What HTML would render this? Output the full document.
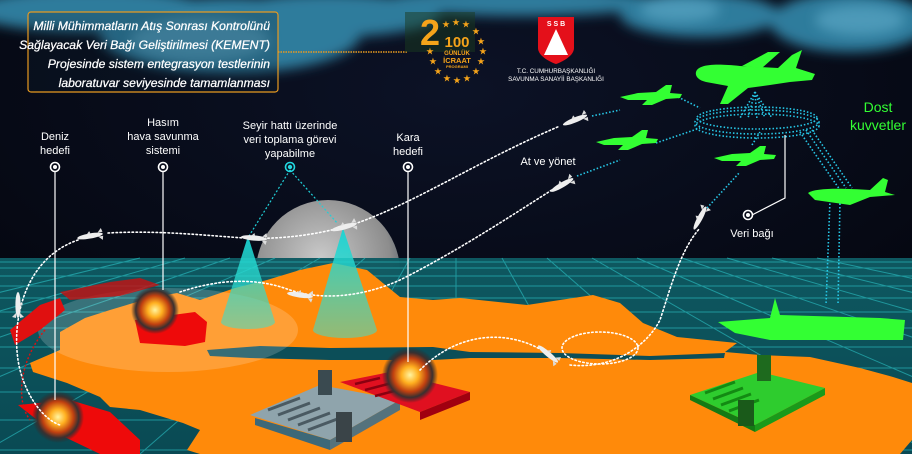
<!DOCTYPE html>
<html><head><meta charset="utf-8"><style>
html,body{margin:0;padding:0;background:#000;}
svg{display:block;}
text{font-family:"Liberation Sans",sans-serif;}
</style></head><body>
<svg width="912" height="454" viewBox="0 0 912 454" xmlns="http://www.w3.org/2000/svg">
<defs>
<filter id="bl" x="-20%" y="-50%" width="140%" height="200%"><feGaussianBlur stdDeviation="6"/></filter>
<radialGradient id="sky" cx="0.5" cy="0.2" r="0.8"><stop offset="0" stop-color="#0c1226"/><stop offset="1" stop-color="#03050c"/></radialGradient>
<radialGradient id="moon" cx="0.45" cy="0.4" r="0.6"><stop offset="0" stop-color="#c9c9c9"/><stop offset="0.8" stop-color="#8d8d8d"/><stop offset="1" stop-color="#5c6670"/></radialGradient>
<radialGradient id="ex" cx="0.5" cy="0.5" r="0.5"><stop offset="0" stop-color="#fff4a0"/><stop offset="0.3" stop-color="#ffb020"/><stop offset="0.6" stop-color="#c04010"/><stop offset="0.8" stop-color="#3a3030"/><stop offset="1" stop-color="#302828" stop-opacity="0"/></radialGradient>
<linearGradient id="sea" x1="0" y1="0" x2="0" y2="1"><stop offset="0" stop-color="#0e5a62"/><stop offset="1" stop-color="#0a4c56"/></linearGradient>
<linearGradient id="cone" x1="0" y1="0" x2="0" y2="1"><stop offset="0" stop-color="#19d4d4" stop-opacity="0.95"/><stop offset="1" stop-color="#40e0c8" stop-opacity="0.55"/></linearGradient>
<path id="jet" d="M0,12 L18,8 L36,7 L46,0 L52,0 L50,8 L62,9 L60,13 L46,14 L32,20 L22,20 L27,15 L8,15 Z"/>
<g id="msl"><ellipse cx="0" cy="0" rx="13" ry="2.6" fill="#eee"/><path d="M8,-2 L12,-6 L13,-2 Z M8,2 L12,6 L13,2 Z M-3,-2 L0,-5 L1,-2 Z" fill="#ddd"/></g>
</defs>
<rect width="912" height="454" fill="url(#sky)"/>
<!-- clouds -->
<g filter="url(#bl)" fill="#2f7c9c">
<ellipse cx="90" cy="10" rx="120" ry="22"/>
<ellipse cx="230" cy="35" rx="130" ry="38"/>
<ellipse cx="330" cy="15" rx="110" ry="22"/>
<ellipse cx="520" cy="2" rx="140" ry="14"/>
<ellipse cx="700" cy="15" rx="80" ry="22"/>
<ellipse cx="850" cy="22" rx="80" ry="30"/>
</g>
<g filter="url(#bl)" fill="#5aa6c4" opacity="0.7"><ellipse cx="200" cy="40" rx="70" ry="22"/><ellipse cx="860" cy="20" rx="45" ry="15"/><ellipse cx="680" cy="10" rx="40" ry="12"/></g>
<!-- moon -->
<circle cx="328" cy="272" r="72" fill="url(#moon)"/>
<!-- sea -->
<rect x="0" y="258" width="912" height="196" fill="url(#sea)" opacity="0.97"/>
<g stroke="#2cc4c8" stroke-width="1" opacity="0.6" fill="none">
<line x1="0" y1="262" x2="912" y2="262"/><line x1="0" y1="268" x2="912" y2="268"/><line x1="0" y1="276" x2="912" y2="276"/><line x1="0" y1="286" x2="912" y2="286"/><line x1="0" y1="298" x2="912" y2="298"/><line x1="0" y1="312" x2="912" y2="312"/><line x1="0" y1="328" x2="912" y2="328"/><line x1="0" y1="347" x2="912" y2="347"/><line x1="0" y1="368" x2="912" y2="368"/><line x1="0" y1="392" x2="912" y2="392"/><line x1="0" y1="420" x2="912" y2="420"/><line x1="0" y1="450" x2="912" y2="450"/>
<line x1="456" y1="258" x2="456" y2="454"/><line x1="410" y1="258" x2="300" y2="454"/><line x1="365" y1="258" x2="140" y2="454"/><line x1="320" y1="258" x2="-20" y2="454"/><line x1="275" y1="258" x2="-180" y2="454"/><line x1="230" y1="258" x2="-340" y2="454"/><line x1="185" y1="258" x2="-500" y2="454"/><line x1="140" y1="258" x2="-660" y2="454"/>
<line x1="502" y1="258" x2="612" y2="454"/><line x1="547" y1="258" x2="772" y2="454"/><line x1="592" y1="258" x2="932" y2="454"/><line x1="637" y1="258" x2="1092" y2="454"/><line x1="682" y1="258" x2="1252" y2="454"/><line x1="727" y1="258" x2="1412" y2="454"/><line x1="772" y1="258" x2="1572" y2="454"/><line x1="817" y1="258" x2="1732" y2="454"/>
</g>
<!-- land -->
<path fill="#ff8a0a" d="M60,332 L85,318 L110,310 L150,298 L177,293 L200,300 L235,288 L267,280 L300,270 L333,263 L367,270 L400,297 L433,300 L460,298 L527,305 L560,300 L593,295 L620,303 L643,323 L677,337 L737,343 L725,352 L760,355 L810,357 L860,368 L893,377 L912,383 L912,440 L900,454 L200,454 L187,450 L200,430 L183,423 L140,410 L110,407 L100,397 L67,383 L33,372 L30,363 L60,350 Z"/>
<path fill="#0c4e58" d="M207,350 L260,346 L330,348 L433,347 L470,352 L560,353 L650,356 L725,353 L724,358 L650,360 L560,358 L470,358 L433,360 L330,360 L250,358 L210,356 Z"/>
<ellipse cx="168" cy="330" rx="130" ry="42" fill="#ffffff" opacity="0.18"/>
<!-- cones -->
<path d="M248,236 L221,322 A27,7 0 0 0 275,322 Z" fill="url(#cone)"/>
<path d="M343,228 L313,330 A32,8 0 0 0 377,330 Z" fill="url(#cone)"/>
<!-- red enemies -->
<path d="M10,330 L40,305 L60,298 L65,310 L40,330 L15,345 Z" fill="#e01010"/>
<path d="M60,292 L110,282 L140,278 L160,285 L120,296 L70,300 Z" fill="#c81010" opacity="0.8"/>
<path d="M135,320 L195,312 L207,322 L205,342 L185,346 L140,343 Z" fill="#ee0a0a"/>
<path d="M18,405 L70,400 L110,412 L140,440 L140,454 L100,454 L50,430 Z" fill="#ee0a0a"/>
<!-- bases -->
<path d="M250,415 L320,385 L400,400 L330,440 Z" fill="#8fa4ac"/>
<g stroke="#4a5a62" stroke-width="3"><line x1="268" y1="410" x2="300" y2="398"/><line x1="278" y1="415" x2="310" y2="403"/><line x1="288" y1="420" x2="320" y2="408"/><line x1="298" y1="425" x2="330" y2="413"/><line x1="308" y1="430" x2="340" y2="418"/></g>
<path d="M255,418 L330,440 L330,450 L255,425 Z" fill="#3d6878"/>
<path d="M330,440 L400,400 L400,410 L330,450 Z" fill="#55727c"/>
<rect x="318" y="370" width="14" height="25" fill="#3a4a50"/>
<rect x="336" y="412" width="16" height="30" fill="#3a4448"/>
<path d="M340,382 L390,372 L470,392 L420,412 Z" fill="#e01020"/>
<g stroke="#8a0010" stroke-width="2.5"><line x1="355" y1="384" x2="380" y2="378"/><line x1="365" y1="390" x2="392" y2="383"/><line x1="375" y1="396" x2="402" y2="389"/></g>
<path d="M420,412 L470,392 L470,400 L420,420 Z" fill="#a00010"/>
<path d="M690,395 L760,372 L825,388 L755,425 Z" fill="#2ecc2e"/>
<g stroke="#138a13" stroke-width="3"><line x1="705" y1="393" x2="735" y2="382"/><line x1="713" y1="399" x2="743" y2="388"/><line x1="721" y1="405" x2="751" y2="394"/><line x1="729" y1="411" x2="759" y2="400"/></g>
<path d="M690,395 L755,425 L755,432 L690,400 Z" fill="#147a14"/>
<path d="M755,425 L825,388 L825,395 L755,432 Z" fill="#1a9a1a"/>
<rect x="757" y="355" width="14" height="26" fill="#1e6a1e"/>
<rect x="738" y="400" width="16" height="26" fill="#1a5a1a"/>
<!-- explosions -->
<circle cx="155" cy="310" r="24" fill="url(#ex)"/>
<circle cx="58" cy="417" r="26" fill="url(#ex)"/>
<circle cx="410" cy="375" r="28" fill="url(#ex)"/>
<!-- green ship -->
<path d="M718,322 L770,318 L775,298 L780,315 L880,318 L905,320 L903,340 L770,340 L735,333 Z" fill="#33ff33"/>
<!-- connector lines -->
<g stroke="#fff" stroke-width="1.2" fill="none">
<line x1="55" y1="172" x2="55" y2="400"/><line x1="163" y1="172" x2="163" y2="290"/><line x1="408" y1="172" x2="408" y2="362"/>
<polyline points="752,215 785,198 785,135"/>
</g>
<g stroke="#20d0d8" stroke-width="1.2" stroke-dasharray="2,2" fill="none"><line x1="290" y1="170" x2="249" y2="236"/><line x1="290" y1="170" x2="338" y2="224"/></g>
<!-- white dotted paths -->
<g stroke="#fff" stroke-width="1.6" stroke-dasharray="1.5,2.5" fill="none" stroke-linecap="round">
<path d="M108,233 C160,230 210,236 245,238 C290,240 330,232 360,222 C420,200 480,160 560,126"/>
<path d="M78,240 C20,260 10,330 20,370 C28,400 45,420 60,425"/>
<path d="M180,292 C210,282 250,275 290,290 C320,300 360,298 400,280 C460,250 520,210 555,188"/>
<path d="M420,370 C460,330 510,330 545,352 M570,365 C620,370 650,340 660,320 C670,290 680,250 700,228"/>
<ellipse cx="600" cy="348" rx="38" ry="16"/>
</g>
<path d="M45,330 C20,360 15,400 30,420" stroke="#e01010" stroke-width="1.4" stroke-dasharray="2,2" fill="none"/>
<!-- missiles -->
<use href="#msl" transform="translate(90,236) rotate(-10)"/>
<use href="#msl" transform="translate(254,238) rotate(5)"/>
<use href="#msl" transform="translate(344,227) rotate(-15)"/>
<use href="#msl" transform="translate(300,295) rotate(8)"/>
<use href="#msl" transform="translate(575,120) rotate(-22)"/>
<use href="#msl" transform="translate(562,185) rotate(-30)"/>
<use href="#msl" transform="translate(700,218) rotate(-62)"/>
<use href="#msl" transform="translate(548,354) rotate(40)"/>
<use href="#msl" transform="translate(18,305) rotate(90)"/>
<!-- cyan datalinks -->
<g stroke="#27c8e8" stroke-width="1.6" stroke-dasharray="1.5,2" fill="none">
<ellipse cx="757" cy="122" rx="62" ry="12"/><ellipse cx="757" cy="118" rx="60" ry="11"/><ellipse cx="757" cy="126" rx="62" ry="12"/>
<line x1="592" y1="116" x2="620" y2="110"/><line x1="678" y1="97" x2="700" y2="108"/>
<line x1="577" y1="176" x2="620" y2="160"/><line x1="656" y1="143" x2="700" y2="128"/>
<line x1="707" y1="208" x2="740" y2="172"/><line x1="752" y1="145" x2="760" y2="132"/>
<path d="M755,92 L740,118 M755,92 L757,120 M755,92 L772,118 M755,92 L748,118 M755,92 L765,118"/>
<line x1="800" y1="132" x2="840" y2="190"/><line x1="806" y1="130" x2="846" y2="188"/><line x1="812" y1="130" x2="852" y2="188"/>
<line x1="830" y1="200" x2="826" y2="305"/><line x1="840" y1="200" x2="838" y2="305"/>
</g>
<!-- green aircraft -->
<g fill="#33ff33">
<path d="M696,72 C698,65 712,63 740,66 L778,68 L792,55 L802,50 L796,68 L815,74 L812,80 L790,82 L770,85 L748,88 L728,104 L720,104 L728,86 L706,82 C698,80 695,76 696,72 Z"/>
<path d="M742,66 L768,52 L780,52 L762,68 Z"/>
<use href="#jet" transform="translate(620,85)"/>
<use href="#jet" transform="translate(596,130)"/>
<use href="#jet" transform="translate(714,146)"/>
<path d="M808,193 C815,188 840,188 870,190 L883,178 L888,180 L885,192 L895,195 L870,197 L850,205 L815,200 Z"/>
</g>
<!-- pins -->
<g fill="none" stroke="#fff" stroke-width="1.6"><circle cx="55" cy="167" r="4.5"/><circle cx="163" cy="167" r="4.5"/><circle cx="408" cy="167" r="4.5"/><circle cx="748" cy="215" r="4.5"/></g>
<g fill="#fff"><circle cx="55" cy="167" r="2"/><circle cx="163" cy="167" r="2"/><circle cx="408" cy="167" r="2"/><circle cx="748" cy="215" r="2"/></g>
<circle cx="290" cy="167" r="4.5" fill="none" stroke="#22d8e0" stroke-width="1.6"/><circle cx="290" cy="167" r="2.2" fill="#22d8e0"/>
<!-- labels -->
<g fill="#fff" font-size="11" text-anchor="middle">
<text x="55" y="140">Deniz</text><text x="55" y="154">hedefi</text>
<text x="163" y="126">Hasım</text><text x="163" y="140">hava savunma</text><text x="163" y="154">sistemi</text>
<text x="290" y="129">Seyir hattı üzerinde</text><text x="290" y="143">veri toplama görevi</text><text x="290" y="157">yapabilme</text>
<text x="408" y="141">Kara</text><text x="408" y="155">hedefi</text>
<text x="548" y="165">At ve yönet</text>
<text x="752" y="237">Veri bağı</text>
</g>
<g fill="#33ff33" font-size="14" text-anchor="middle"><text x="878" y="112">Dost</text><text x="878" y="130">kuvvetler</text></g>
<!-- title box -->
<rect x="28" y="12" width="250" height="80" rx="3" fill="#0a2030" fill-opacity="0.25" stroke="#e89a20" stroke-width="1.2"/>
<line x1="278" y1="52" x2="408" y2="52" stroke="#e89a20" stroke-width="1.5" stroke-dasharray="1.5,1"/>
<g fill="#fff" font-size="12.2" font-style="italic" text-anchor="end" stroke="#fff" stroke-width="0.25">
<text x="270" y="30">Milli Mühimmatların Atış Sonrası Kontrolünü</text>
<text x="270" y="49">Sağlayacak Veri Bağı Geliştirilmesi (KEMENT)</text>
<text x="270" y="68">Projesinde sistem entegrasyon testlerinin</text>
<text x="270" y="87">laboratuvar seviyesinde tamamlanması</text>
</g>
<!-- 2100 logo -->
<rect x="405" y="12" width="70" height="40" fill="#1a3a20" opacity="0.5"/>
<g fill="#f5a31a" font-weight="bold" text-anchor="middle">
<text x="430" y="45" font-size="36">2</text>
<text x="457" y="47" font-size="15">100</text>
<text x="457" y="55" font-size="6">GÜNLÜK</text>
<text x="457" y="63" font-size="7.5">İCRAAT</text>
<text x="457" y="68" font-size="4">PROGRAMI</text>
<g font-size="8"><text x="446" y="27">★</text><text x="456" y="25">★</text><text x="466" y="27">★</text><text x="476" y="34">★</text><text x="481" y="44">★</text><text x="483" y="54">★</text><text x="481" y="64">★</text><text x="476" y="74">★</text><text x="467" y="81">★</text><text x="457" y="83">★</text><text x="447" y="81">★</text><text x="438" y="74">★</text><text x="433" y="64">★</text><text x="430" y="54">★</text></g>
</g>
<!-- SSB shield -->
<path d="M538,17 L574,17 L574,48 C574,56 562,62 556,64 C550,62 538,56 538,48 Z" fill="#e4101a"/>
<path d="M556,29 L568,55 L544,55 Z" fill="#fff"/>
<text x="556" y="26" font-size="7" fill="#fff" font-weight="bold" text-anchor="middle">S S B</text>
<g fill="#fff" font-size="6.3" text-anchor="middle"><text x="556" y="73">T.C. CUMHURBAŞKANLIĞI</text><text x="556" y="81">SAVUNMA SANAYİİ BAŞKANLIĞI</text></g>
</svg>
</body></html>
